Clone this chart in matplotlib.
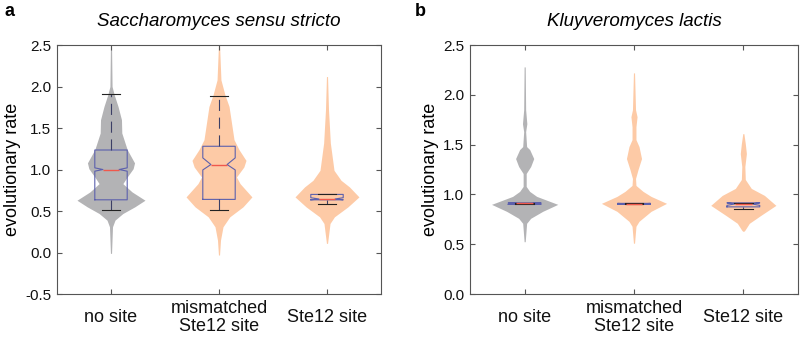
import matplotlib
matplotlib.use('Agg')
import matplotlib.pyplot as plt

plt.rcParams['font.family'] = ['Liberation Sans', 'DejaVu Sans']

groups = ['no site', 'mismatched\nSte12 site', 'Ste12 site']
titles = ['Saccharomyces sensu stricto', 'Kluyveromyces lactis']
panel_letters = ['a', 'b']

yticks_a = [-0.5, 0.0, 0.5, 1.0, 1.5, 2.0, 2.5]
yticks_b = [0.0, 0.5, 1.0, 1.5, 2.0, 2.5]
yticklabels_a = ['-0.5', '0.0', '0.5', '1.0', '1.5', '2.0', '2.5']
yticklabels_b = ['0.0', '0.5', '1.0', '1.5', '2.0', '2.5']

# violin outlines: rate value, half width (x units)
a_nosite_y = [2.50, 2.00, 1.90, 1.76, 1.60, 1.44, 1.24, 1.08, 1.01, 0.91, 0.83, 0.73, 0.63, 0.55, 0.47, 0.39, 0.31, -0.01]
a_nosite_w = [0.005, 0.01, 0.03, 0.065, 0.097, 0.10, 0.15, 0.218, 0.205, 0.15, 0.11, 0.195, 0.315, 0.22, 0.11, 0.037, 0.014, 0.005]
a_mism_y = [2.50, 2.08, 1.90, 1.76, 1.56, 1.36, 1.24, 1.11, 1.03, 0.91, 0.83, 0.67, 0.55, 0.43, 0.31, 0.15, -0.03]
a_mism_w = [0.005, 0.018, 0.055, 0.093, 0.116, 0.139, 0.185, 0.25, 0.23, 0.162, 0.195, 0.305, 0.222, 0.10, 0.037, 0.014, 0.005]
a_ste_y = [2.12, 1.72, 1.32, 0.99, 0.87, 0.79, 0.67, 0.55, 0.43, 0.35, 0.11]
a_ste_w = [0.005, 0.014, 0.031, 0.065, 0.13, 0.208, 0.296, 0.194, 0.069, 0.028, 0.005]

b_nosite_y = [2.28, 1.85, 1.71, 1.63, 1.48, 1.45, 1.36, 1.28, 1.21, 1.08, 1.03, 0.98, 0.90, 0.83, 0.76, 0.71, 0.525]
b_nosite_w = [0.005, 0.009, 0.02, 0.009, 0.018, 0.046, 0.083, 0.055, 0.014, 0.014, 0.046, 0.11, 0.303, 0.165, 0.055, 0.018, 0.005]
b_mism_y = [2.22, 1.85, 1.78, 1.68, 1.55, 1.48, 1.36, 1.25, 1.16, 1.09, 1.03, 0.98, 0.91, 0.83, 0.73, 0.68, 0.51]
b_mism_w = [0.005, 0.014, 0.028, 0.018, 0.018, 0.046, 0.069, 0.037, 0.014, 0.018, 0.083, 0.156, 0.298, 0.156, 0.046, 0.018, 0.005]
b_ste_y = [1.61, 1.51, 1.41, 1.28, 1.15, 1.06, 0.99, 0.89, 0.79, 0.71, 0.64, 0.63]
b_ste_w = [0.005, 0.018, 0.028, 0.014, 0.018, 0.073, 0.193, 0.298, 0.161, 0.055, 0.014, 0.005]

# box stats: q1, median, q3, whisker low, whisker high, notch low, notch high
a_q1 = [0.635, 0.64, 0.635]
a_med = [1.00, 1.06, 0.645]
a_q3 = [1.235, 1.28, 0.70]
a_wlo = [0.51, 0.51, 0.59]
a_whi = [1.905, 1.89, 0.70]
a_clo = [0.98, 0.995, 0.635]
a_chi = [1.02, 1.14, 0.66]

b_q1 = [0.90, 0.90, 0.875]
b_med = [0.91, 0.905, 0.905]
b_q3 = [0.915, 0.91, 0.915]
b_wlo = [0.90, 0.90, 0.855]
b_whi = [0.915, 0.91, 0.915]
b_clo = [0.905, 0.90, 0.89]
b_chi = [0.915, 0.91, 0.915]

gray = '#b3b3b5'
peach = '#fdcaa6'
box_blue = '#5c60ad'
med_red = '#f0584c'
frame = '#555555'


def draw_panel(ax, violins, q1, med, q3, wlo, whi, clo, chi):
    cols = [gray, peach, peach]
    for i, (vy, vw) in enumerate(violins):
        pos = i + 1
        ax.fill_betweenx(vy, [pos - w for w in vw], [pos + w for w in vw],
                         color=cols[i], lw=0, zorder=1)
    stats = []
    for i in range(3):
        stats.append(dict(med=med[i], q1=q1[i], q3=q3[i], whislo=wlo[i], whishi=whi[i],
                          cilo=clo[i], cihi=chi[i], fliers=[]))
    ax.bxp(stats, positions=[1, 2, 3], widths=0.3, shownotches=True, showfliers=False,
           capwidths=0.17, manage_ticks=False,
           boxprops=dict(color=box_blue, lw=0.8),
           medianprops=dict(color=med_red, lw=1.0),
           whiskerprops=dict(color='#3c3f66', lw=0.8, linestyle=(0, (10, 6))),
           capprops=dict(color='#222222', lw=0.8))
    ax.set_xlim(0.5, 3.5)
    ax.set_xticks([1, 2, 3])
    ax.set_xticklabels(groups, fontsize=13, linespacing=1.05)
    for lab in ax.get_xticklabels():
        lab.set_va('center')
    ax.tick_params(axis='x', pad=17)
    ax.tick_params(direction='in', top=True, right=True, length=3.5, width=0.8,
                   color=frame, labelcolor='#111111')
    ax.tick_params(axis='y', labelsize=11, pad=4)
    for sp in ax.spines.values():
        sp.set_color(frame)
        sp.set_linewidth(0.8)
    ax.set_ylabel('evolutionary rate', fontsize=13, labelpad=3)


fig = plt.figure(figsize=(8, 3.41), dpi=100)
ax1 = fig.add_axes([0.07125, 0.1378, 0.405, 0.7302])
ax2 = fig.add_axes([0.5875, 0.1378, 0.41, 0.7302])

draw_panel(ax1, [(a_nosite_y, a_nosite_w), (a_mism_y, a_mism_w), (a_ste_y, a_ste_w)],
           a_q1, a_med, a_q3, a_wlo, a_whi, a_clo, a_chi)
ax1.set_ylim(-0.5, 2.5)
ax1.set_yticks(yticks_a)
ax1.set_yticklabels(yticklabels_a)

draw_panel(ax2, [(b_nosite_y, b_nosite_w), (b_mism_y, b_mism_w), (b_ste_y, b_ste_w)],
           b_q1, b_med, b_q3, b_wlo, b_whi, b_clo, b_chi)
ax2.set_ylim(0.0, 2.5)
ax2.set_yticks(yticks_b)
ax2.set_yticklabels(yticklabels_b)

for ax, t in zip([ax1, ax2], titles):
    ax.set_title(t, fontsize=13.5, style='italic', pad=14)

fig.text(0.006, 0.965, panel_letters[0], fontsize=13, fontweight='bold', va='center')
fig.text(0.519, 0.965, panel_letters[1], fontsize=13, fontweight='bold', va='center')

fig.savefig('out.png', dpi=100)
